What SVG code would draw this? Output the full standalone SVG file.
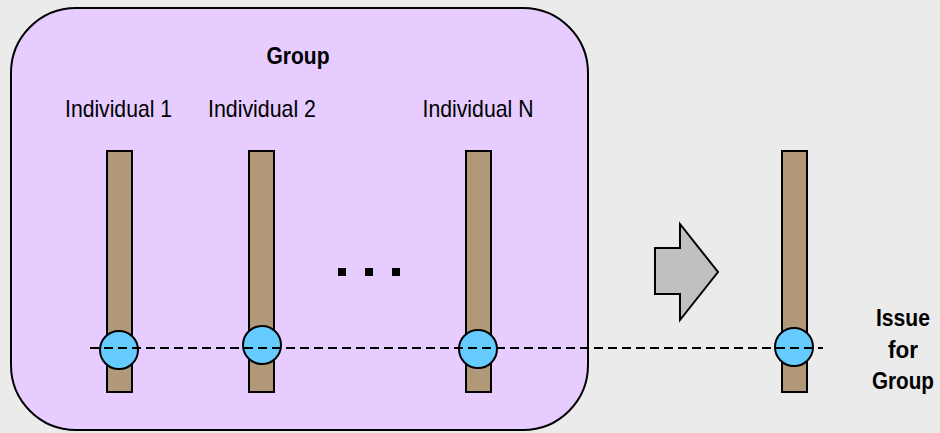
<svg xmlns="http://www.w3.org/2000/svg" width="940" height="433" viewBox="0 0 940 433">
<style>
.bar{fill:#b09878;stroke:#000;stroke-width:2}
.dot{fill:#66ccff;stroke:#000;stroke-width:2}
.lbl{font-family:"Liberation Sans",Arial,sans-serif;font-size:24px;fill:#000;text-anchor:middle}
.b{font-weight:bold;font-size:23px}
</style>
<rect x="0" y="0" width="940" height="433" fill="#ebebeb"/>
<g id="group">
<rect x="11" y="8" width="577" height="422" rx="65" ry="65" fill="#e6ccff" stroke="#000" stroke-width="2"/>
<text class="lbl b" x="298" y="64" textLength="63" lengthAdjust="spacingAndGlyphs">Group</text>
</g>
<g id="individual1">
<text class="lbl" x="118.5" y="117" textLength="107" lengthAdjust="spacingAndGlyphs">Individual 1</text>
<rect class="bar" x="107" y="151" width="25" height="241"/>
</g>
<g id="individual2">
<text class="lbl" x="262" y="117" textLength="108" lengthAdjust="spacingAndGlyphs">Individual 2</text>
<rect class="bar" x="249" y="151" width="25" height="241"/>
</g>
<g id="individualN">
<text class="lbl" x="478" y="117" textLength="111" lengthAdjust="spacingAndGlyphs">Individual N</text>
<rect class="bar" x="466" y="151" width="25" height="241"/>
</g>
<g id="ellipsis">
<rect x="338" y="268" width="8" height="8" fill="#000"/>
<rect x="365" y="268" width="8" height="8" fill="#000"/>
<rect x="392" y="268" width="8" height="8" fill="#000"/>
</g>
<g id="arrow">
<polygon points="655,248 680,248 680,224 718,272 680,320 680,294 655,294" fill="#c0c0c0" stroke="#000" stroke-width="2"/>
</g>
<g id="groupIssue">
<rect class="bar" x="782" y="151" width="25" height="241"/>
<text class="lbl b" x="903" y="326" textLength="54" lengthAdjust="spacingAndGlyphs">Issue</text>
<text class="lbl b" x="903" y="358" textLength="30" lengthAdjust="spacingAndGlyphs">for</text>
<text class="lbl b" x="903" y="389" textLength="62" lengthAdjust="spacingAndGlyphs">Group</text>
</g>
<g id="issues">
<circle class="dot" cx="119" cy="350" r="19"/>
<circle class="dot" cx="262" cy="345" r="19"/>
<circle class="dot" cx="478" cy="349" r="19"/>
<circle class="dot" cx="794" cy="347" r="19"/>
</g>
<g id="connectors">
<line x1="90" y1="348" x2="823" y2="348" stroke="#000" stroke-width="1.8" stroke-dasharray="9,5"/>
</g>
</svg>
